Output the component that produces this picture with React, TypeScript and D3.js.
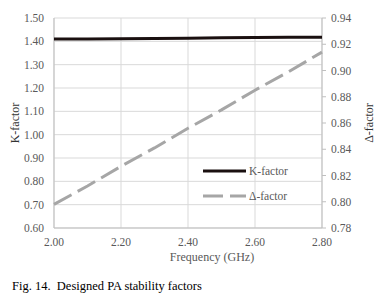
import React from "react";
import * as d3 from "d3";

const freq = [2.0, 2.1, 2.2, 2.3, 2.4, 2.5, 2.6, 2.7, 2.8];
const kFactor = [1.41, 1.41, 1.411, 1.412, 1.413, 1.415, 1.416, 1.417, 1.418];
const deltaFactor = [0.798, 0.812, 0.827, 0.841, 0.856, 0.87, 0.885, 0.899, 0.914];
const xTicks = [2.0, 2.2, 2.4, 2.6, 2.8];
const leftTicks = [0.6, 0.7, 0.8, 0.9, 1.0, 1.1, 1.2, 1.3, 1.4, 1.5];
const rightTicks = [0.78, 0.8, 0.82, 0.84, 0.86, 0.88, 0.9, 0.92, 0.94];

export default function App() {
  const W = 381, H = 297;
  const L = 54, R = 322, T = 18, B = 228;
  const x = d3.scaleLinear().domain([2.0, 2.8]).range([L, R]);
  const yL = d3.scaleLinear().domain([0.6, 1.5]).range([B, T]);
  const yR = d3.scaleLinear().domain([0.78, 0.94]).range([B, T]);
  const kLine = d3.line<number>().x((_, i) => x(freq[i])).y((d) => yL(d))(kFactor) || "";
  const dLine = d3.line<number>().x((_, i) => x(freq[i])).y((d) => yR(d))(deltaFactor) || "";
  const font = "'Liberation Serif', 'Times New Roman', serif";
  const tc = "#595959";
  return (
    <svg width={W} height={H} style={{ position: "absolute", left: 0, top: 0 }} fontFamily={font}>
      <rect width={W} height={H} fill="#fff" />
      {leftTicks.map((t) => (
        <line key={"h" + t} x1={L} x2={R} y1={yL(t)} y2={yL(t)} stroke="#d9d9d9" strokeWidth={1} />
      ))}
      {xTicks.map((t) => (
        <line key={"v" + t} x1={x(t)} x2={x(t)} y1={T} y2={B} stroke="#d9d9d9" strokeWidth={1} />
      ))}
      <line x1={L} x2={L} y1={T} y2={B} stroke="#bfbfbf" />
      <line x1={R} x2={R} y1={T} y2={B} stroke="#bfbfbf" />
      <line x1={L} x2={R} y1={B} y2={B} stroke="#bfbfbf" />
      {rightTicks.map((t) => (
        <line key={"rt" + t} x1={R} x2={R + 4} y1={yR(t)} y2={yR(t)} stroke="#bfbfbf" />
      ))}
      {leftTicks.map((t) => (
        <text key={"lt" + t} x={L - 10} y={yL(t)} dy="0.35em" textAnchor="end" fontSize={11.5} fill={tc}>
          {t.toFixed(2)}
        </text>
      ))}
      {rightTicks.map((t) => (
        <text key={"rl" + t} x={R + 9} y={yR(t)} dy="0.35em" textAnchor="start" fontSize={11.5} fill={tc}>
          {t.toFixed(2)}
        </text>
      ))}
      {xTicks.map((t) => (
        <text key={"xl" + t} x={x(t)} y={B + 14} dy="0.35em" textAnchor="middle" fontSize={11.5} fill={tc}>
          {t.toFixed(2)}
        </text>
      ))}
      <path d={dLine} fill="none" stroke="#a6a6a6" strokeWidth={3} strokeDasharray="20,7" />
      <path d={kLine} fill="none" stroke="#1a1010" strokeWidth={3} />
      <text x={212} y={257} dy="0.35em" textAnchor="middle" fontSize={12} fill={tc}>
        Frequency (GHz)
      </text>
      <text transform={`translate(15,${(T + B) / 2}) rotate(-90)`} dy="0.35em" textAnchor="middle" fontSize={12} fill="#333">
        K-factor
      </text>
      <text transform={`translate(369,${(T + B) / 2}) rotate(-90)`} dy="0.35em" textAnchor="middle" fontSize={12} fill="#333">
        Δ-factor
      </text>
      <line x1={203} x2={246} y1={171} y2={171} stroke="#1a1010" strokeWidth={3} />
      <text x={249} y={171} dy="0.35em" fontSize={11.5} fill={tc}>K-factor</text>
      <line x1={203} x2={246} y1={196} y2={196} stroke="#a6a6a6" strokeWidth={3} strokeDasharray="20,7" />
      <text x={249} y={196} dy="0.35em" fontSize={11.5} fill={tc}>Δ-factor</text>
      <text x={12} y={286} dy="0.35em" fontSize={12.5} fill="#000" style={{ whiteSpace: "pre" }}>
        {"Fig. 14.  Designed PA stability factors"}
      </text>
    </svg>
  );
}
